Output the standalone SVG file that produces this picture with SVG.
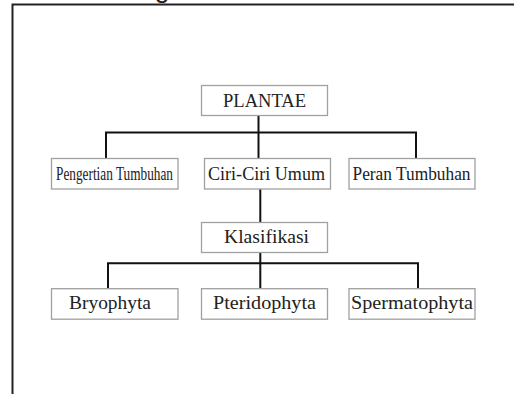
<svg xmlns="http://www.w3.org/2000/svg" width="514" height="394" viewBox="0 0 514 394">
<style>
.box{fill:#fff;stroke:#a0a0a0;stroke-width:1.3}
.t{font-family:"Liberation Serif","DejaVu Serif",serif;font-size:18px;fill:#222;text-anchor:middle}
.c{fill:none;stroke:#111;stroke-width:2}
.f{fill:none;stroke:#222;stroke-width:2}
</style>
<rect width="514" height="394" fill="#fff"/>
<g id="frame">
<path class="f" d="M12.5,394 V4.5 H514"/>
<text x="162" y="-3" font-family="'Liberation Sans',Arial,sans-serif" font-size="27" fill="#222" text-anchor="middle">g</text>
</g>
<g id="connectors">
<path class="c" d="M258.5,116 V158 M106,158 V132.5 H416 V158"/>
<path class="c" d="M260.3,189 V222"/>
<path class="c" d="M260.3,253 V288.7 M108,288.7 V263.3 H418 V288.7"/>
</g>
<g id="plantae"><rect class="box" x="201.5" y="85.5" width="126" height="30"/><text class="t" x="264.5" y="106.5" textLength="83" lengthAdjust="spacingAndGlyphs">PLANTAE</text></g>
<g id="pengertian"><rect class="box" x="51.5" y="158.5" width="126.5" height="30.5"/><text class="t" x="114.5" y="179.5" font-size="16" textLength="117" lengthAdjust="spacingAndGlyphs">Pengertian Tumbuhan</text></g>
<g id="ciri"><rect class="box" x="204.5" y="158.5" width="126" height="30.5"/><text class="t" x="266.5" y="179.5" textLength="117" lengthAdjust="spacingAndGlyphs">Ciri-Ciri Umum</text></g>
<g id="peran"><rect class="box" x="349" y="158.5" width="126" height="30.5"/><text class="t" x="411.5" y="179.5" textLength="118" lengthAdjust="spacingAndGlyphs">Peran Tumbuhan</text></g>
<g id="klasifikasi"><rect class="box" x="201.5" y="222.5" width="126" height="30"/><text class="t" x="266.5" y="242.5" textLength="85" lengthAdjust="spacingAndGlyphs">Klasifikasi</text></g>
<g id="bryophyta"><rect class="box" x="51.5" y="288.7" width="126.5" height="30.5"/><text class="t" x="110" y="308.5" textLength="82" lengthAdjust="spacingAndGlyphs">Bryophyta</text></g>
<g id="pteridophyta"><rect class="box" x="201.5" y="288.7" width="126" height="30.5"/><text class="t" x="264.5" y="308.5" textLength="103" lengthAdjust="spacingAndGlyphs">Pteridophyta</text></g>
<g id="spermatophyta"><rect class="box" x="349" y="288.7" width="126" height="30.5"/><text class="t" x="412" y="308.5" textLength="122" lengthAdjust="spacingAndGlyphs">Spermatophyta</text></g>
</svg>
